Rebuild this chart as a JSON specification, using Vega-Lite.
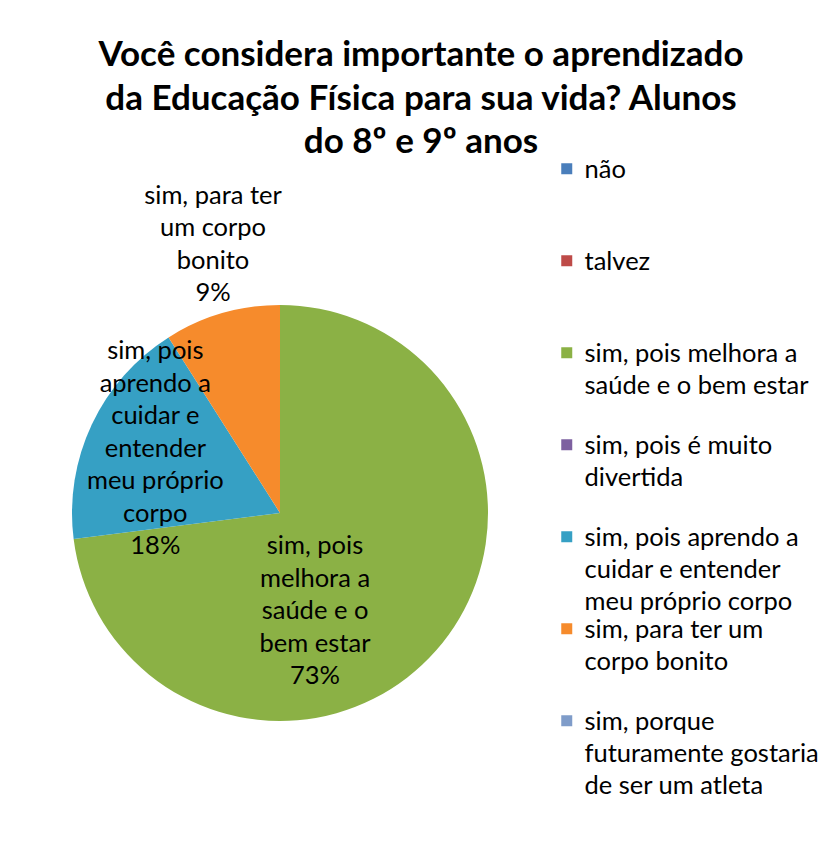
{
  "$schema": "https://vega.github.io/schema/vega-lite/v6.json",
  "width": 416,
  "height": 416,
  "autosize": {"type": "none"},
  "padding": {"left": 72, "top": 305, "right": 342, "bottom": 124},
  "background": "white",
  "title": {
    "text": ["Você considera importante o aprendizado", "da Educação Física para sua vida? Alunos", "do 8º e 9º anos"],
    "font": "Lato",
    "fontSize": 35,
    "fontWeight": "bold",
    "lineHeight": 43.5,
    "color": "#000000",
    "anchor": "middle",
    "frame": "group",
    "dx": 141,
    "offset": -4
  },
  "data": {
    "values": [
      {"idx": 1, "cat": "não", "value": 0, "label": ""},
      {"idx": 2, "cat": "talvez", "value": 0, "label": ""},
      {"idx": 3, "cat": "sim, pois melhora a saúde e o bem estar", "value": 73, "label": "sim, pois\nmelhora a\nsaúde e o\nbem estar\n73%"},
      {"idx": 4, "cat": "sim, pois é muito divertida", "value": 0, "label": ""},
      {"idx": 5, "cat": "sim, pois aprendo a cuidar e entender meu próprio corpo", "value": 18, "label": "sim, pois\naprendo a\ncuidar e\nentender\nmeu próprio\ncorpo\n18%"},
      {"idx": 6, "cat": "sim, para ter um corpo bonito", "value": 9, "label": "sim, para ter\num corpo\nbonito\n9%"},
      {"idx": 7, "cat": "sim, porque futuramente gostaria de ser um atleta", "value": 0, "label": ""}
    ]
  },
  "encoding": {
    "theta": {"field": "value", "type": "quantitative", "stack": true},
    "order": {"field": "idx", "type": "quantitative"}
  },
  "layer": [
    {
      "mark": {"type": "arc"},
      "encoding": {
        "color": {
          "field": "cat",
          "type": "nominal",
          "scale": {
            "domain": ["não", "talvez", "sim, pois melhora a saúde e o bem estar", "sim, pois é muito divertida", "sim, pois aprendo a cuidar e entender meu próprio corpo", "sim, para ter um corpo bonito", "sim, porque futuramente gostaria de ser um atleta"],
            "range": ["#4A7EBB", "#BE4B48", "#8BB145", "#7D60A0", "#36A0C4", "#F68B2C", "#7F9CC9"]
          },
          "legend": {
            "orient": "none",
            "legendX": 482,
            "legendY": -149,
            "title": null,
            "padding": 0,
            "symbolType": "square",
            "symbolSize": 121,
            "symbolStrokeWidth": 0,
            "labelFont": "Lato",
            "labelFontSize": 25.5,
            "labelColor": "#000000",
            "labelOffset": 5,
            "labelBaseline": "top",
            "labelLimit": 400,
            "gridAlign": "all",
            "rowPadding": 0,
            "labelExpr": "datum.label == 'sim, pois melhora a saúde e o bem estar' ? ['sim, pois melhora a', 'saúde e o bem estar'] : datum.label == 'sim, pois é muito divertida' ? ['sim, pois é muito', 'divertida'] : datum.label == 'sim, pois aprendo a cuidar e entender meu próprio corpo' ? ['sim, pois aprendo a', 'cuidar e entender', 'meu próprio corpo'] : datum.label == 'sim, para ter um corpo bonito' ? ['sim, para ter um', 'corpo bonito'] : datum.label == 'sim, porque futuramente gostaria de ser um atleta' ? ['sim, porque', 'futuramente gostaria', 'de ser um atleta'] : datum.label",
            "encode": {"labels": {"update": {"lineHeight": {"value": 32}, "dy": {"value": -11}}}}
          }
        }
      }
    },
    {
      "mark": {"type": "text", "radius": 100, "dx": -40, "dy": -33, "font": "Lato", "fontSize": 25.5, "lineBreak": "\n", "lineHeight": 32.5, "align": "center", "baseline": "middle"},
      "encoding": {
        "detail": {"field": "cat", "type": "nominal"},
        "color": {"value": "#000000"},
        "text": {"condition": {"test": "datum.idx == 3", "field": "label"}, "value": ""}
      }
    },
    {
      "mark": {"type": "text", "radius": 140, "dx": 2, "dy": -102, "font": "Lato", "fontSize": 25.5, "lineBreak": "\n", "lineHeight": 32.5, "align": "center", "baseline": "middle"},
      "encoding": {
        "detail": {"field": "cat", "type": "nominal"},
        "color": {"value": "#000000"},
        "text": {"condition": {"test": "datum.idx == 5", "field": "label"}, "value": ""}
      }
    },
    {
      "mark": {"type": "text", "radius": 276, "dx": 10, "dy": -52, "font": "Lato", "fontSize": 25.5, "lineBreak": "\n", "lineHeight": 32.5, "align": "center", "baseline": "middle"},
      "encoding": {
        "detail": {"field": "cat", "type": "nominal"},
        "color": {"value": "#000000"},
        "text": {"condition": {"test": "datum.idx == 6", "field": "label"}, "value": ""}
      }
    }
  ],
  "config": {"view": {"stroke": null}}
}
